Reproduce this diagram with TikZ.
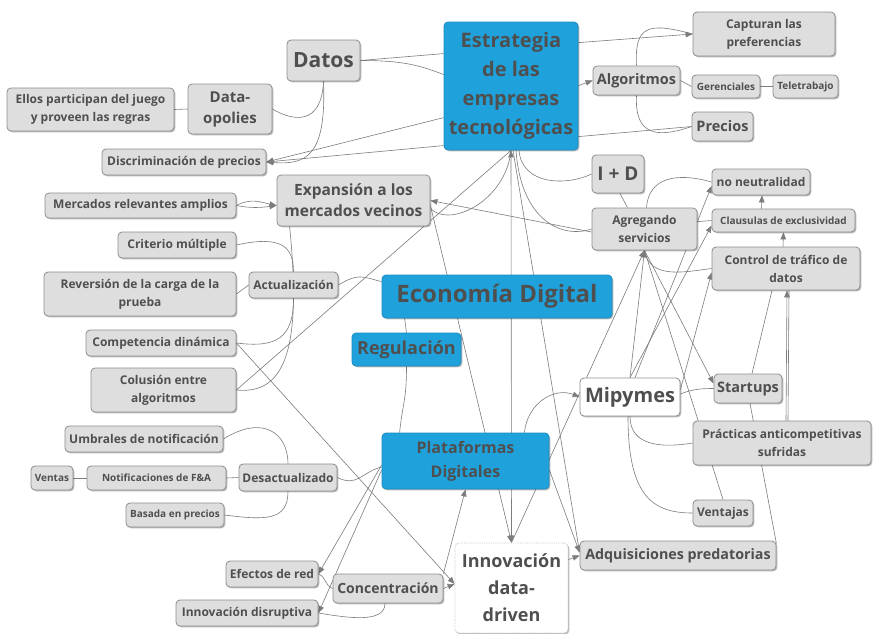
\documentclass[tikz,border=0pt]{standalone}
\usepackage{fontspec}
\setmainfont{Open Sans}
\usetikzlibrary{calc,shadows,arrows.meta}
\definecolor{boxgray}{HTML}{DEDEDE}
\definecolor{edgegray}{HTML}{8E8E8E}
\definecolor{skyblue}{HTML}{1FA2DC}
\definecolor{skyedge}{HTML}{1A8CC0}
\definecolor{inkgray}{HTML}{4F4F4F}
\definecolor{wiregray}{HTML}{7C7C7C}
\pgfdeclarelayer{paper}
\pgfdeclarelayer{wires}
\pgfsetlayers{paper,wires,main}
\tikzset{
  base/.style={rounded corners=4pt, line width=0.8pt, inner sep=0pt, align=center, text=inkgray,
    drop shadow={shadow xshift=1.3pt, shadow yshift=-1.3pt, fill=black, opacity=0.28}},
  gbox/.style={base, draw=edgegray, fill=boxgray},
  bbox/.style={base, draw=skyedge, fill=skyblue},
  wbox/.style={base, draw=edgegray, fill=white},
  ibox/.style={base, draw=gray!45, densely dotted, fill=white},
  sz/.style 2 args={minimum width=#1pt, minimum height=#2pt},
  fsz/.style 2 args={font=\bfseries\fontsize{#1}{#2}\selectfont},
  wire/.style={draw=wiregray, line width=0.6pt},
  tip/.style={wire, -{Triangle[length=7pt,width=5.5pt]}},
  tips/.style={wire, {Triangle[length=7pt,width=5.5pt]}-{Triangle[length=7pt,width=5.5pt]}},
}
\begin{document}
\begin{tikzpicture}[x=1pt,y=-1pt]
\begin{pgfonlayer}{paper}
\fill[white] (0,0) rectangle (873,633);
\end{pgfonlayer}
\useasboundingbox (0,0) rectangle (873,633);

% boxes
\node[gbox, sz={73}{41}, fsz={21}{24}] (datos) at (323.5,60.5) {Datos};
\node[bbox, sz={134}{128}, fsz={20}{29}] (estr) at (511,86) {Estrategia\\de las\\empresas\\tecnológicas};
\node[gbox, sz={142}{44}, fsz={12}{18}] (capt) at (764,34) {Capturan las\\preferencias};
\node[gbox, sz={87}{29}, fsz={14.5}{17}] (algo) at (636.5,80.5) {Algoritmos};
\node[gbox, sz={68}{23}, fsz={10}{12}] (ger) at (726,86.5) {Gerenciales};
\node[gbox, sz={65}{23}, fsz={10}{12}] (tele) at (805.5,86.5) {Teletrabajo};
\node[gbox, sz={61}{29}, fsz={14.5}{17}] (precios) at (722.5,126.5) {Precios};
\node[gbox, sz={84}{50}, fsz={15}{21}] (dataop) at (230,109) {Data-\\opolies};
\node[gbox, sz={167}{43}, fsz={12}{18}] (ellos) at (90.5,109.5) {Ellos participan del juego\\y proveen las regras};
\node[gbox, sz={164}{26}, fsz={12}{14}] (discr) at (184,162) {Discriminación de precios};
\node[gbox, sz={52}{38}, fsz={19}{22}] (iyd) at (618,174) {I + D};
\node[gbox, sz={98}{26}, fsz={12}{14}] (nneu) at (761,182) {no neutralidad};
\node[gbox, sz={105}{42}, fsz={12}{18}] (agreg) at (644.5,229) {Agregando\\servicios};
\node[gbox, sz={143}{23}, fsz={10}{12}] (claus) at (783.5,220.5) {Clausulas de exclusividad};
\node[gbox, sz={148}{43}, fsz={12}{18}] (ctrl) at (786,268.5) {Control de tráfico de\\datos};
\node[gbox, sz={153}{51}, fsz={15.5}{21}] (expan) at (353.5,200.5) {Expansión a los\\mercados vecinos};
\node[gbox, sz={191}{25}, fsz={12}{14}] (merc) at (140.5,205.5) {Mercados relevantes amplios};
\node[gbox, sz={118}{26}, fsz={12}{14}] (crit) at (177,245) {Criterio múltiple};
\node[gbox, sz={89}{26}, fsz={12}{14}] (actu) at (293.5,285) {Actualización};
\node[gbox, sz={192}{44}, fsz={12}{18}] (rev) at (140,294) {Reversión de la carga de la\\prueba};
\node[bbox, sz={230}{43}, fsz={24}{28}] (econ) at (497,296.5) {Economía Digital};
\node[gbox, sz={150}{26}, fsz={12}{14}] (comp) at (161,343) {Competencia dinámica};
\node[bbox, sz={109}{33}, fsz={18}{21}] (regu) at (406.5,349.5) {Regulación};
\node[gbox, sz={145}{44}, fsz={12}{18}] (colu) at (163.5,390) {Colusión entre\\algoritmos};
\node[wbox, sz={100}{38}, fsz={20}{24}] (mipy) at (630,397) {Mipymes};
\node[gbox, sz={68}{29}, fsz={14.5}{17}] (start) at (748,388.5) {Startups};
\node[gbox, sz={178}{44}, fsz={12}{18}] (prac) at (782,443) {Prácticas anticompetitivas\\sufridas};
\node[gbox, sz={60}{26}, fsz={12}{14}] (vent) at (723,513) {Ventajas};
\node[gbox, sz={158}{26}, fsz={12}{14}] (umbr) at (144,439) {Umbrales de notificación};
\node[gbox, sz={42}{24}, fsz={10}{12}] (ventas) at (52,478) {Ventas};
\node[gbox, sz={139}{24}, fsz={10}{12}] (notif) at (156.5,478) {Notificaciones de F\&A};
\node[gbox, sz={98}{27}, fsz={12}{14}] (desac) at (288,477.5) {Desactualizado};
\node[gbox, sz={98}{24}, fsz={10}{12}] (basada) at (175,515) {Basada en precios};
\node[bbox, sz={167}{56}, fsz={16}{24}] (plat) at (465.5,461) {Plataformas\\Digitales};
\node[gbox, sz={92}{26}, fsz={12}{14}] (efec) at (272,574) {Efectos de red};
\node[gbox, sz={110}{29}, fsz={14}{17}] (conc) at (388,588.5) {Concentración};
\node[gbox, sz={142}{26}, fsz={12}{14}] (disr) at (247,613) {Innovación disruptiva};
\node[ibox, sz={113}{90}, fsz={18}{27}] (innov) at (511.5,588) {Innovación\\data-\\driven};
\node[gbox, sz={196}{29}, fsz={14.3}{17}] (adq) at (678,555.5) {Adquisiciones predatorias};

% connectors, drawn underneath the boxes
\begin{pgfonlayer}{wires}
% Datos and Estrategia
\draw[wire] (datos.east) -- ($(estr.north west)+(0,32)$);
\draw[wire] (datos.east) .. controls +(40,0) and +(-25,-10) .. ($(estr.north west)+(0,53)$);
\draw[wire] (datos.south) .. controls +(-2,45) and +(20,12) .. (dataop.east);
\draw[tip] (datos.south) .. controls +(3,75) and +(40,3) .. (discr.east);
\draw[tip] ($(estr.north west)+(0,96)$) -- (discr.east);
\draw[tip] ($(estr.north west)+(0,124)$) -- (discr.east);
\draw[wire] (dataop.west) -- (ellos.east);
% Estrategia to the right
\draw[tip] ($(estr.north east)+(0,21)$) -- (capt.west);
\draw[wire] (algo.north) .. controls +(-2,-40) and +(-45,-12) .. (capt.west);
\draw[tip] ($(estr.north east)+(0,64)$) -- (algo.west);
\draw[wire] ($(estr.north east)+(0,115)$) -- (precios.west);
\draw[wire] (algo.south) .. controls +(-2,40) and +(-35,12) .. (precios.west);
\draw[wire] (algo.east) -- (ger.west);
\draw[wire] (ger.east) -- (tele.west);
\draw[wire] ($(estr.south)+(8,0)$) .. controls +(3,35) and +(-25,12) .. (iyd.west);
\draw[wire] ($(estr.south)+(5,0)$) .. controls +(5,70) and +(-30,10) .. (agreg.west);
\draw[tip] ($(agreg.west)+(0,3)$) -- (expan.east);
\draw[wire] ($(expan.east)+(0,8)$) .. controls +(20,20) and +(-5,50) .. (estr.south);
\draw[wire] (colu.east) -- (estr.south);
\draw[tips] (estr.south) -- (innov.north);
\draw[tip] ($(estr.south)+(2,0)$) -- ($(adq.west)+(0,-3)$);
\draw[tip] ($(expan.east)+(0,5)$) -- (innov.north);
% left branch
\draw[wire] (actu.east) .. controls +(20,-12) and +(-20,-5) .. ($(econ.north west)+(0,7)$);
\draw[wire] (crit.east) .. controls +(45,-10) and +(0,-25) .. (actu.north);
\draw[wire] (actu.south) .. controls +(0,40) and +(40,5) .. (comp.east);
\draw[wire] ($(expan.south west)+(13,0)$) .. controls +(12,120) and +(50,5) .. (colu.east);
\draw[wire] (rev.east) -- (actu.west);
\draw[tip] (comp.east) -- ($(innov.west)+(0,-4)$);
\draw[tip] (merc.east) .. controls +(15,-8) and +(-15,-3) .. ($(expan.west)+(0,5)$);
\draw[tip] (merc.east) .. controls +(15,3) and +(-15,2) .. ($(expan.west)+(0,5)$);
% Regulación and Plataformas
\draw[wire] ($(econ.south west)+(23,0)$) -- (regu.north);
\draw[wire] (regu.south) .. controls +(0,35) and +(3,-30) .. ($(plat.north west)+(18,0)$);
\draw[wire] (desac.east) .. controls +(20,10) and +(-20,5) .. ($(plat.west)+(0,6)$);
\draw[wire] (umbr.east) .. controls +(40,-25) and +(0,-30) .. (desac.north);
\draw[wire] (desac.south) .. controls +(0,30) and +(40,5) .. (basada.east);
\draw[wire] (notif.east) -- (desac.west);
\draw[wire] (ventas.east) -- (notif.west);
\draw[tip] ($(plat.west)+(0,4)$) -- (efec.east);
\draw[tip] ($(plat.west)+(0,9)$) -- (disr.east);
\draw[wire] (conc.west) .. controls +(-8,-3) and +(8,3) .. (efec.east);
\draw[wire] ($(conc.south)+(-3,0)$) .. controls +(0,20) and +(30,5) .. (disr.east);
\draw[tip] (conc.east) -- ($(innov.west)+(0,-4)$);
\draw[tip] (conc.north east) -- (plat.south);
\draw[tip] ($(plat.east)+(0,9)$) -- ($(adq.west)+(0,-3)$);
\draw[tip] ($(innov.north east)+(0,17)$) -- (adq.west);
\draw[tip] ($(plat.north east)+(-25,0)$) .. controls +(3,-30) and +(-25,-10) .. (mipy.west);
% Mipymes and Agregando servicios
\draw[tip] (innov.north) -- (agreg.south);
\draw[tip] (mipy.north) -- (agreg.south);
\draw[tip] (mipy.north) -- ($(claus.west)+(0,5)$);
\draw[tip] ($(mipy.north)+(5,0)$) -- ($(nneu.west)+(0,4)$);
\draw[tip] ($(mipy.north east)+(0,12)$) -- ($(ctrl.west)+(0,4)$);
\draw[wire] ($(mipy.east)+(0,-3)$) .. controls +(12,-5) and +(-12,0) .. (start.west);
\draw[tip] (agreg.south) -- ($(start.west)+(0,-5)$);
\draw[wire] (agreg.south) -- (vent.north);
\draw[wire] (agreg.south) .. controls +(5,30) and +(-25,3) .. (ctrl.west);
\draw[wire] ($(agreg.north)+(2,0)$) .. controls +(2,-30) and +(-35,-10) .. (nneu.west);
\draw[wire] ($(agreg.north east)+(0,14)$) -- (claus.west);
\draw[wire] ($(iyd.south)+(2,0)$) -- ($(agreg.north)+(-17,0)$);
\draw[tip] ($(claus.north)+(-22,0)$) -- ($(nneu.south)+(1,0)$);
\draw[tip] ($(ctrl.north)+(-3,0)$) -- (claus.south);
\draw[tip] ($(prac.north)+(4,0)$) -- ($(ctrl.south)+(1,0)$);
\draw[wire] ($(prac.north)+(6,0)$) -- ($(ctrl.south)+(3,0)$);
\draw[wire] ($(ctrl.south)+(-14,0)$) -- ($(start.north)+(4,0)$);
\draw[wire] ($(start.south)+(2,0)$) -- ($(adq.east)+(0,-12)$);
\draw[wire] (mipy.south) .. controls +(0,30) and +(-30,5) .. (prac.west);
\draw[wire] ($(mipy.south)+(-2,0)$) .. controls +(0,80) and +(-40,0) .. (vent.west);
\end{pgfonlayer}
\end{tikzpicture}
\end{document}
